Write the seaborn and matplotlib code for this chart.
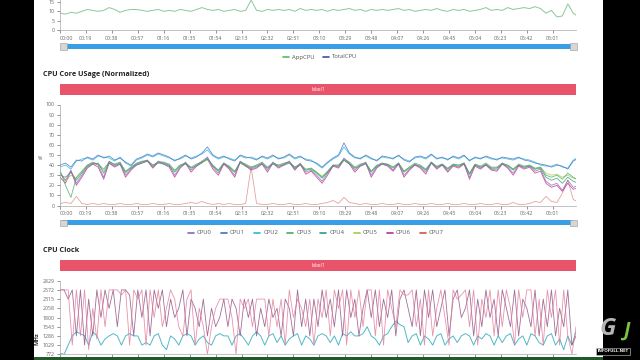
import numpy as np
import pandas as pd
import matplotlib
matplotlib.use("Agg")
import matplotlib.pyplot as plt
from matplotlib.patches import Rectangle
from matplotlib.lines import Line2D
import seaborn as sns

sns.set_style("white")
plt.rcParams['font.family'] = ['Open Sans', 'DejaVu Sans']

# ---------------- data ----------------
time_labels = ["00:00", "00:19", "00:38", "00:57", "01:16", "01:35", "01:54", "02:13",
               "02:32", "02:51", "03:10", "03:29", "03:48", "04:07", "04:26", "04:45",
               "05:04", "05:23", "05:42", "06:01"]
tick_seconds = [0, 19, 38, 57, 76, 95, 114, 133, 152, 171, 190, 209, 228, 247, 266, 285,
                304, 323, 342, 361]

app_cpu = [9, 8.5, 9.5, 9, 10, 11, 10.5, 10, 10.5, 12,
           11, 9.5, 10.5, 11, 11, 10.5, 10, 10.5, 11, 10,
           10.5, 10, 11, 10.5, 10, 11, 12, 11, 10.5, 11,
           10, 10.5, 11, 10, 10.5, 16, 10.5, 10, 11, 10.5,
           11, 10.5, 11, 10, 11.5, 10.5, 11, 10.5, 11, 10,
           11, 10.5, 11, 11.5, 10.5, 11, 10, 11, 10.5, 11,
           10.5, 11, 11.5, 10.5, 11, 10, 10.5, 11, 10.5, 11.5,
           10.5, 10, 11, 10.5, 11, 10, 10.5, 11, 12, 10.5,
           11, 10.5, 12, 11, 11.5, 12, 11.5, 12.5, 11.5, 9,
           10.5, 7, 7.5, 14, 9, 7]

cpu0 = [32, 25, 35, 22, 30, 38, 42, 40, 28, 44,
        40, 42, 30, 36, 41, 43, 45, 38, 44, 42,
        40, 30, 38, 43, 35, 40, 44, 48, 38, 32,
        42, 37, 30, 44, 40, 36, 38, 42, 35, 43,
        38, 41, 44, 36, 42, 33, 35, 30, 24, 32,
        40, 38, 47, 42, 35, 40, 43, 30, 38, 42,
        40, 35, 42, 30, 36, 41, 38, 33, 43, 37,
        41, 34, 40, 38, 42, 28, 40, 37, 41, 36,
        35, 42, 38, 32, 40, 37, 39, 34, 36, 24,
        20, 22, 15, 25, 18, 20]
cpu1 = [40, 42, 38, 45, 44, 48, 46, 50, 47, 49,
        45, 47, 43, 40, 46, 48, 51, 49, 52, 50,
        48, 44, 47, 50, 46, 48, 52, 58, 50, 47,
        49, 46, 44, 50, 48, 47, 45, 49, 47, 50,
        46, 48, 51, 47, 49, 45, 44, 42, 38, 43,
        47, 50, 62, 52, 48, 46, 50, 47, 44, 49,
        48, 46, 50, 45, 43, 48, 49, 47, 51, 46,
        48, 45, 49, 47, 50, 44, 48, 46, 49, 47,
        45, 48, 47, 46, 48, 45, 44, 42, 41, 40,
        38, 40, 39, 36, 44, 47]
cpu2 = [38, 40, 36, 44, 46, 47, 45, 49, 48, 47,
        44, 48, 42, 39, 45, 47, 50, 48, 51, 49,
        47, 45, 46, 49, 47, 49, 51, 55, 49, 46,
        48, 47, 45, 49, 47, 48, 46, 48, 46, 49,
        47, 47, 50, 46, 48, 46, 45, 41, 37, 42,
        46, 49, 58, 51, 47, 47, 49, 46, 45, 48,
        47, 47, 49, 46, 44, 47, 48, 46, 50, 47,
        47, 46, 48, 46, 49, 45, 47, 47, 48, 46,
        46, 47, 46, 45, 47, 46, 45, 43, 40, 39,
        39, 41, 38, 37, 45, 48]
cpu3 = [35, 20, 8, 28, 34, 40, 43, 41, 36, 43,
        41, 43, 34, 38, 42, 44, 44, 40, 43, 43,
        41, 35, 40, 42, 38, 41, 43, 46, 40, 35,
        42, 39, 34, 43, 41, 38, 40, 43, 38, 42,
        40, 42, 43, 38, 41, 36, 37, 33, 28, 34,
        40, 40, 46, 43, 38, 41, 42, 34, 40, 42,
        41, 38, 42, 34, 38, 42, 40, 36, 43, 39,
        41, 37, 41, 40, 42, 32, 41, 39, 42, 38,
        38, 42, 40, 36, 41, 39, 40, 37, 38, 30,
        28, 30, 26, 32, 28, 25]
cpu4 = [30, 28, 33, 25, 32, 39, 41, 42, 32, 42,
        39, 41, 33, 37, 40, 42, 44, 39, 42, 41,
        39, 33, 39, 41, 37, 39, 42, 47, 39, 34,
        41, 38, 33, 42, 39, 37, 39, 41, 37, 41,
        39, 40, 42, 37, 40, 35, 36, 32, 27, 33,
        39, 39, 45, 41, 37, 39, 41, 33, 39, 41,
        40, 37, 41, 33, 37, 40, 39, 35, 42, 38,
        40, 36, 40, 39, 41, 31, 40, 38, 40, 37,
        37, 41, 39, 35, 40, 38, 39, 36, 37, 28,
        25, 27, 22, 28, 24, 22]
cpu5 = [33, 24, 30, 27, 33, 40, 42, 41, 34, 43,
        40, 42, 32, 38, 41, 43, 45, 40, 43, 42,
        40, 34, 40, 42, 37, 40, 43, 45, 39, 35,
        42, 38, 33, 43, 40, 38, 40, 42, 37, 42,
        40, 41, 43, 38, 41, 35, 37, 33, 29, 33,
        40, 40, 45, 42, 37, 40, 42, 34, 39, 41,
        41, 38, 42, 34, 38, 41, 39, 35, 42, 38,
        41, 36, 41, 40, 42, 31, 41, 38, 41, 37,
        37, 41, 40, 36, 40, 38, 40, 36, 38, 32,
        30, 31, 28, 30, 27, 26]
cpu6 = [28, 22, 34, 20, 28, 37, 41, 38, 26, 42,
        38, 41, 28, 35, 40, 42, 44, 37, 43, 41,
        38, 28, 37, 42, 33, 39, 43, 46, 36, 30,
        41, 36, 28, 43, 39, 35, 37, 41, 33, 42,
        37, 40, 43, 35, 41, 31, 34, 28, 22, 30,
        39, 37, 45, 41, 33, 39, 42, 28, 37, 41,
        39, 34, 41, 28, 35, 40, 37, 31, 42, 36,
        40, 33, 39, 37, 41, 26, 39, 36, 40, 35,
        34, 41, 37, 30, 39, 36, 38, 32, 34, 22,
        18, 20, 14, 22, 16, 18]
cpu7 = [2, 3, 2, 9, 2, 1, 2, 1, 2, 1,
        1, 2, 1, 1, 2, 1, 1, 2, 1, 1,
        2, 1, 1, 2, 3, 2, 4, 2, 1, 2,
        1, 2, 1, 1, 2, 38, 2, 1, 1, 2,
        1, 1, 2, 1, 1, 2, 1, 1, 2, 3,
        5, 2, 8, 3, 2, 1, 2, 1, 1, 2,
        1, 1, 2, 1, 1, 2, 1, 1, 2, 1,
        1, 2, 1, 1, 2, 1, 1, 2, 1, 1,
        2, 1, 1, 3, 1, 1, 2, 4, 3, 9,
        4, 3, 12, 25, 6, 3]

clock_big = [2572, 2572, 2572, 1029, 2572, 1286, 2572, 900, 2058, 1200,
             2572, 1543, 2572, 2572, 2572, 2430, 2572, 1029, 2572, 2315,
             2572, 1029, 2572, 1800, 2572, 1543, 2058, 2572, 2315, 1543,
             1286, 2315, 2572, 1029, 2058, 1543, 772, 1543, 2058, 2315,
             2315, 2315, 1800, 772, 2315, 2058, 2315, 1543, 2315, 2315,
             2315, 1286, 2315, 1543, 2315, 1029, 2572, 1800, 2315, 2058,
             1543, 2315, 1029, 2315, 1800, 2572, 1286, 2572, 2058, 2572,
             1029, 2572, 1800, 2572, 1543, 2572, 2572, 1286, 2572, 1029,
             2572, 2058, 1543, 2572, 2430, 2430, 2572, 1543, 2315, 1029,
             2572, 1286, 2058, 2572, 1800, 1029, 2572, 2315, 2430, 2572,
             1543, 2572, 1029, 2315, 1800, 2572, 1286, 2572, 1543, 2572,
             2058, 1029, 2572, 1800, 2572, 2572, 1286, 2315, 1029, 2572,
             1800, 2572, 1029, 2572, 1286, 772, 1543]
clock_mid = [2572, 2572, 2315, 2572, 1286, 2572, 1029, 2315, 1286, 2572,
             1800, 2572, 2058, 2572, 1543, 2572, 2572, 2430, 1286, 2572,
             1800, 2572, 1286, 2572, 2058, 2572, 1543, 2315, 1800, 2058,
             2572, 1286, 2315, 2058, 1543, 2315, 1286, 2058, 1543, 1800,
             2315, 1543, 2315, 2058, 1286, 2315, 1800, 2315, 1286, 2058,
             1543, 2315, 1800, 2058, 1286, 2315, 2058, 1286, 2572, 1543,
             2315, 1286, 2315, 1543, 2572, 1800, 2315, 1543, 2572, 1286,
             2572, 1800, 2315, 1286, 2058, 2572, 1800, 2572, 1543, 2315,
             1800, 2572, 1286, 2315, 2572, 2058, 1543, 2572, 1286, 2572,
             1800, 2572, 1543, 2058, 2572, 1286, 2315, 2572, 1800, 2058,
             2572, 1286, 2315, 1543, 2572, 1800, 2315, 1286, 2572, 2058,
             1543, 2572, 1286, 2315, 2058, 1543, 2572, 1286, 2315, 1543,
             2572, 1286, 2058, 1543, 2572, 1029, 1286]
clock_little = [800, 772, 1029, 1286, 1400, 1350, 1286, 1029, 1400, 1286,
                1029, 1200, 1286, 1350, 1286, 1029, 1286, 1350, 1286, 1286,
                1029, 1100, 1029, 1286, 1350, 1029, 900, 1286, 1200, 1029,
                1286, 1350, 1286, 1029, 1200, 1286, 1100, 1029, 1286, 1350,
                1286, 1286, 1029, 1286, 1350, 1200, 1029, 1286, 1400, 1286,
                1029, 1286, 1350, 1100, 1286, 1029, 1200, 1286, 1350, 1029,
                1286, 1200, 1029, 1286, 1350, 1286, 1100, 1286, 1029, 1350,
                1286, 1400, 1286, 1286, 1350, 1543, 1286, 1200, 1029, 1286,
                1350, 1543, 1700, 1600, 1543, 1100, 1286, 1350, 1029, 1286,
                1200, 1029, 1286, 1350, 1029, 1200, 1286, 1100, 1286, 1350,
                1286, 1029, 1286, 1200, 1350, 1286, 1029, 1286, 1100, 1286,
                1350, 1029, 1200, 1286, 1029, 1350, 1286, 1100, 1029, 1286,
                1350, 1029, 1200, 900, 1286, 1029, 1400]
clock_floor = [772, 772]

cpu_yticks = [0, 10, 20, 30, 40, 50, 60, 70, 80, 90, 100]
clock_yticks = [772, 1029, 1286, 1543, 1800, 2058, 2315, 2572, 2829]
app_yticks = [0, 5, 10, 15]

# ---------------- layout helpers ----------------
W, H = 640, 360
fig = plt.figure(figsize=(6.4, 3.6), dpi=100, facecolor="white")

def add_ax(x0, y0, x1, y1):
    ax = fig.add_axes([x0 / W, 1 - y1 / H, (x1 - x0) / W, (y1 - y0) / H])
    ax.set_facecolor("none")
    return ax

def rect(x0, y0, x1, y1, **kw):
    fig.add_artist(Rectangle((x0 / W, 1 - y1 / H), (x1 - x0) / W, (y1 - y0) / H,
                             transform=fig.transFigure, **kw))

def ftext(x, y, s, **kw):
    fig.text(x / W, 1 - y / H, s, **kw)

def fline(x0, x1, y, color, lw=1.2):
    fig.add_artist(Line2D([x0 / W, x1 / W], [1 - y / H, 1 - y / H],
                          transform=fig.transFigure, color=color, lw=lw))

XMAX = 378
AX_L, AX_R = 60, 576
TICK_C = "#666666"

def style_ax(ax, yticks, ylim):
    ax.set_xlim(0, XMAX)
    ax.set_ylim(*ylim)
    ax.set_yticks(yticks)
    ax.set_yticklabels([str(v) for v in yticks])
    ax.set_xticks(tick_seconds)
    ax.set_xticklabels(time_labels)
    for lab in ax.get_xticklabels()[:1]:
        lab.set_horizontalalignment("left")
    ax.tick_params(axis="both", labelsize=3.8, colors=TICK_C, length=2, width=0.5, pad=2)
    ax.tick_params(axis="both", left=True, bottom=True)
    for s in ["top", "right"]:
        ax.spines[s].set_visible(False)
    for s in ["left", "bottom"]:
        ax.spines[s].set_color("#aaaaaa")
        ax.spines[s].set_linewidth(0.5)
    ax.set_xlabel("")
    ax.set_ylabel("")

def slider(y):
    rect(62, y, 573, y + 5, facecolor="#3a9ee4", edgecolor="none")
    rect(60, y - 0.5, 67, y + 5.5, facecolor="#d6d6d6", edgecolor="#9a9a9a", lw=0.4)
    rect(570, y - 0.5, 577, y + 5.5, facecolor="#d6d6d6", edgecolor="#9a9a9a", lw=0.4)

def legend_row(items, y):
    for x, label, color in items:
        fline(x, x + 6, y, color, lw=1.2)
        ftext(x + 9, y, label, fontsize=4.2, color="#555555", va="center", ha="left")

# ---------------- top panel (AppCPU / TotalCPU) ----------------
step_c = 4
t_cpu = np.arange(len(app_cpu)) * step_c
ax_top = add_ax(AX_L, 30 - 20 * 1.867, AX_R, 30)
sns.lineplot(x=t_cpu, y=app_cpu, ax=ax_top, color="#8cc79a", linewidth=0.7)
style_ax(ax_top, app_yticks, (0, 20))
slider(44)
legend_row([(283, "AppCPU", "#5cb85c"), (323, "TotalCPU", "#3f4f9f")], 57)

# ---------------- middle panel (CPU core usage) ----------------
ftext(43, 74, "CPU Core USage (Normalized)", fontsize=5.2, fontweight="bold",
      color="#222222", va="center", ha="left")
rect(60, 84, 576, 95, facecolor="#e9546b", edgecolor="none")
ftext(318, 89.5, "label1", fontsize=3.5, color="white", va="center", ha="center")

cpu_names = ["CPU0", "CPU1", "CPU2", "CPU3", "CPU4", "CPU5", "CPU6", "CPU7"]
cpu_vals = [cpu0, cpu1, cpu2, cpu3, cpu4, cpu5, cpu6, cpu7]
cpu_colors = {"CPU0": "#8e63b8", "CPU1": "#3b6fc4", "CPU2": "#2bb5d8", "CPU3": "#48a868",
              "CPU4": "#2e9e78", "CPU5": "#a8c83c", "CPU6": "#b8308c", "CPU7": "#e08a8a"}
df_cpu = pd.concat([pd.DataFrame({"t": t_cpu, "v": v, "cpu": n})
                    for n, v in zip(cpu_names, cpu_vals)], ignore_index=True)
ax_mid = add_ax(AX_L, 104.5, AX_R, 205.5)
sns.lineplot(data=df_cpu, x="t", y="v", hue="cpu",
             hue_order=["CPU7", "CPU6", "CPU5", "CPU4", "CPU3", "CPU0", "CPU2", "CPU1"],
             palette=cpu_colors, linewidth=0.6, alpha=0.8, legend=False, ax=ax_mid)
style_ax(ax_mid, cpu_yticks, (0, 100))
ftext(40, 159, "%", fontsize=3.8, color="#555555", va="center", ha="center")
slider(220)
legend_row([(188 + 33.1 * i, n, cpu_colors[n] if n != "CPU7" else "#d0504a")
            for i, n in enumerate(cpu_names)], 233)

# ---------------- bottom panel (CPU clock) ----------------
ftext(43, 250, "CPU Clock", fontsize=5.2, fontweight="bold",
      color="#222222", va="center", ha="left")
rect(60, 260, 576, 271, facecolor="#e9546b", edgecolor="none")
ftext(318, 265.5, "label1", fontsize=3.5, color="white", va="center", ha="center")

step_k = 3
t_clk = np.arange(len(clock_big)) * step_k
ax_bot = add_ax(AX_L, 280.7, AX_R, 354.3)
sns.lineplot(x=[0, XMAX], y=clock_floor, ax=ax_bot, color="#f0a0a8", linewidth=0.8)
sns.lineplot(x=t_clk, y=clock_little, ax=ax_bot, color="#3fb0c0", linewidth=0.7, alpha=0.9)
sns.lineplot(x=t_clk, y=clock_mid, ax=ax_bot, color="#8c4a7e", linewidth=0.6, alpha=0.8)
sns.lineplot(x=t_clk, y=clock_big, ax=ax_bot, color="#e27898", linewidth=0.6, alpha=0.8)
style_ax(ax_bot, clock_yticks, (772, 2829))
ax_bot.tick_params(axis="x", labelbottom=False)
ftext(37, 339, "MHz", fontsize=4.2, fontweight="bold", color="#333333",
      rotation=90, va="center", ha="center")

# ---------------- frame, black bars, watermark ----------------
rect(34, 356.5, 603, 360, facecolor="#1f5a28", edgecolor="none")
rect(0, 0, 34, 360, facecolor="black", edgecolor="none")
rect(603, 0, 640, 360, facecolor="black", edgecolor="none")
ftext(608, 329, "G", fontsize=17, fontweight="bold", fontstyle="italic",
      color="#b5b5b5", va="center", ha="center")
ftext(626, 331, "J", fontsize=14, fontweight="bold", fontstyle="italic",
      color="#7cc242", va="center", ha="center")
ftext(613, 351.5, "INFOFULL.NET", fontsize=3.2, fontweight="bold", color="white",
      va="center", ha="center",
      bbox=dict(boxstyle="square,pad=0.25", fc="black", ec="#cccccc", lw=0.4))

fig.savefig("out.png", dpi=100, facecolor="white")
